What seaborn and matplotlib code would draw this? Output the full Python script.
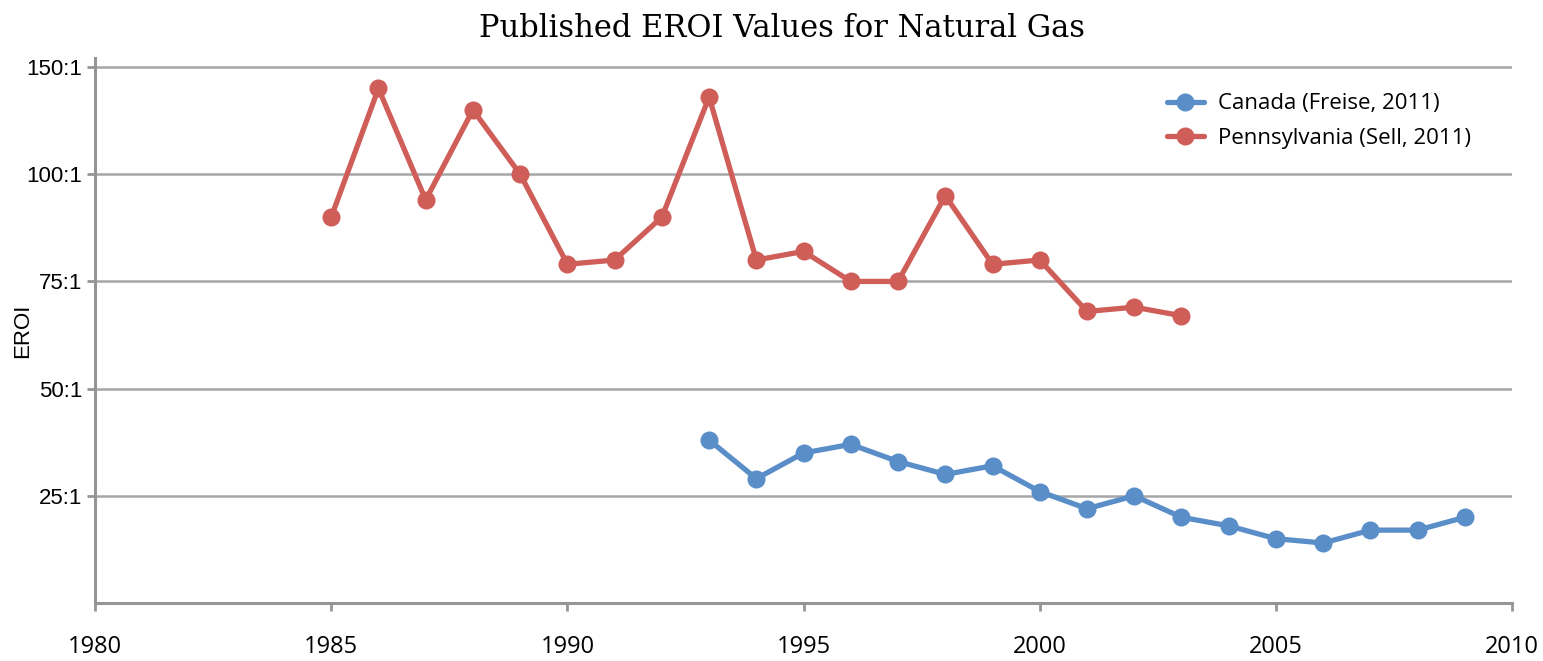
import pandas as pd
import matplotlib.pyplot as plt
import seaborn as sns

# dane
years_pa = list(range(1985, 2004))
eroi_pa = [90, 120, 94, 115, 100, 79, 80, 90, 118, 80, 82, 75, 75, 95, 79, 80, 68, 69, 67]

years_ca = list(range(1993, 2010))
eroi_ca = [38, 29, 35, 37, 33, 30, 32, 26, 22, 25, 20, 18, 15, 14, 17, 17, 20]

series_names = ["Canada (Freise, 2011)", "Pennsylvania (Sell, 2011)"]
series_colors = ["#5a8ec8", "#cf5d58"]

x_ticks = [1980, 1985, 1990, 1995, 2000, 2005, 2010]
y_ticks = [25, 50, 75, 100, 125]
# oryginał podpisuje najwyższą linię jako 150:1
y_tick_labels = ["25:1", "50:1", "75:1", "100:1", "150:1"]

df = pd.concat([
    pd.DataFrame({"Rok": years_ca, "EROI": eroi_ca, "Seria": series_names[0]}),
    pd.DataFrame({"Rok": years_pa, "EROI": eroi_pa, "Seria": series_names[1]}),
])

sns.set_style("white")

fig = plt.figure(figsize=(15.43, 6.61), dpi=100)
ax = fig.add_axes([0.0616, 0.0877, 0.9184, 0.8245])

sns.lineplot(
    data=df, x="Rok", y="EROI", hue="Seria",
    palette=dict(zip(series_names, series_colors)),
    marker="o", markersize=13, markeredgewidth=0,
    linewidth=3.8, ax=ax, zorder=3
)

ax.set_xlim(1980, 2010)
ax.set_ylim(0, 127.1)
ax.set_xticks(x_ticks)
ax.set_xticklabels([str(x) for x in x_ticks], family="Open Sans", fontsize=17, color="black")
ax.set_yticks(y_ticks)
ax.set_yticklabels(y_tick_labels, family="Liberation Sans", fontsize=16, color="black")

# siatka pozioma
for y in y_ticks:
    ax.axhline(y, color="#a6a6a6", linewidth=1.8, zorder=0)

for s in ["top", "right"]:
    ax.spines[s].set_visible(False)
for s in ["left", "bottom"]:
    ax.spines[s].set_color("#959595")
    ax.spines[s].set_linewidth(2.2)

ax.tick_params(axis="x", bottom=True, direction="out", length=6, width=2, color="#959595", pad=17)
ax.tick_params(axis="y", left=True, direction="out", length=6, width=2, color="#959595", pad=3)

ax.set_xlabel("")
ax.set_ylabel("EROI", family="Liberation Sans", fontsize=16, color="black")
ax.yaxis.set_label_coords(-0.044, 0.5)

fig.text(0.507, 0.957, "Published EROI Values for Natural Gas", family="DejaVu Serif",
         fontsize=22, ha="center", va="center", color="black")

leg = ax.legend(loc="upper left", bbox_to_anchor=(0.742, 0.972), frameon=False,
                prop={"family": "Open Sans", "size": 16}, handlelength=1.7,
                labelspacing=0.6, handletextpad=0.6)
for t in leg.get_texts():
    t.set_color("black")

plt.savefig("out.png", dpi=100)
